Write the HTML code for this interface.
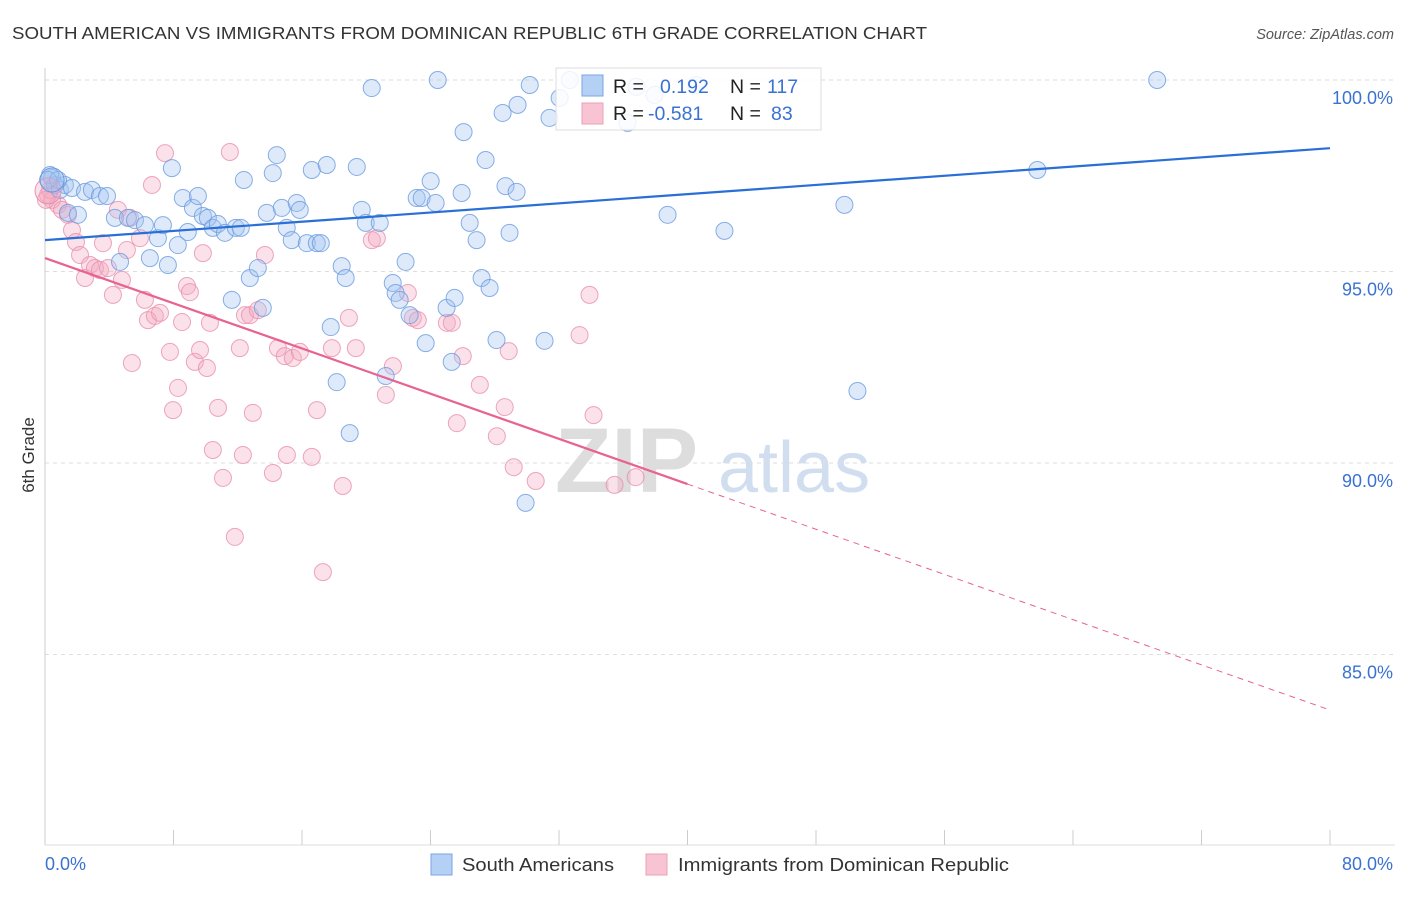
<!DOCTYPE html>
<html><head><meta charset="utf-8"><style>
body{margin:0;background:#fff;font-family:"Liberation Sans",sans-serif;}
svg text{font-family:"Liberation Sans",sans-serif;}
</style></head><body>
<svg id="chart" width="1406" height="892">
<text x="12" y="39" font-size="17.5" fill="#333" textLength="915" lengthAdjust="spacingAndGlyphs">SOUTH AMERICAN VS IMMIGRANTS FROM DOMINICAN REPUBLIC 6TH GRADE CORRELATION CHART</text>
<text x="1394" y="39" font-size="14.5" fill="#555" font-style="italic" text-anchor="end">Source: ZipAtlas.com</text>
<text transform="translate(34,455) rotate(-90)" font-size="17" fill="#333" text-anchor="middle">6th Grade</text>
<text x="555" y="492" font-size="92" fill="#ddd" font-family="Liberation Serif" font-weight="bold">ZIP</text>
<text x="718" y="492" font-size="72" fill="#d0def0">atlas</text>
<g id="grid"></g><g id="axes"></g><g id="pts"></g><g id="lines"></g>
<g>
<rect x="556" y="68" width="265" height="62" fill="#fff" fill-opacity="0.85" stroke="#ddd"/>
<rect x="582" y="75" width="21" height="21" fill="#b4d0f4" stroke="#7aa6e0"/>
<rect x="582" y="103" width="21" height="21" fill="#f8c4d4" stroke="#eaa0b8"/>
<text x="613" y="93" font-size="19.5" fill="#222">R = </text><text x="660" y="93" font-size="19.5" fill="#3a72d0">0.192</text>
<text x="730" y="93" font-size="19.5" fill="#222">N = </text><text x="767" y="93" font-size="19.5" fill="#3a72d0">117</text>
<text x="613" y="120" font-size="19.5" fill="#222">R = </text><text x="648" y="120" font-size="19.5" fill="#3a72d0">-0.581</text>
<text x="730" y="120" font-size="19.5" fill="#222">N = </text><text x="771" y="120" font-size="19.5" fill="#3a72d0">83</text>
</g>
<g>
<rect x="431" y="854" width="21" height="21" fill="#b4d0f4" stroke="#7aa6e0"/>
<text x="462" y="871" font-size="18.5" fill="#333" textLength="152" lengthAdjust="spacingAndGlyphs">South Americans</text>
<rect x="646" y="854" width="21" height="21" fill="#f8c4d4" stroke="#eaa0b8"/>
<text x="678" y="871" font-size="18.5" fill="#333" textLength="331" lengthAdjust="spacingAndGlyphs">Immigrants from Dominican Republic</text>
</g>
<text x="45" y="870" font-size="18" fill="#3a72d0">0.0%</text>
<text x="1393" y="870" font-size="18" fill="#3a72d0" text-anchor="end">80.0%</text>
</svg>
<script>
const yTicks=[100,95,90,85];
const yTickLabels=["100.0%","95.0%","90.0%","85.0%"];
const xTicks=[0,8,16,24,32,40,48,56,64,72,80];
const blueX=[0.44,0.62,0.93,1.24,1.68,2.49,2.92,3.42,3.86,1.43,2.05,4.35,5.16,5.60,6.22,4.67,6.53,7.03,7.34,7.65,7.90,8.27,8.58,8.89,9.21,9.52,9.83,10.14,10.45,10.76,11.20,11.63,11.88,12.19,12.38,12.75,13.25,13.56,13.81,14.18,14.43,14.74,15.05,15.36,15.67,15.86,16.30,16.61,16.92,17.17,17.54,17.79,18.16,18.47,18.72,18.97,19.41,19.72,19.97,20.34,20.84,21.21,21.65,21.83,22.08,22.45,22.70,23.14,23.45,23.70,24.01,24.32,24.45,25.00,25.32,25.50,25.94,26.06,26.44,26.87,27.18,27.43,27.68,28.11,28.49,28.67,28.92,29.36,29.42,29.92,30.18,31.10,31.41,32.04,32.67,36.27,36.83,38.76,42.30,49.77,50.58,61.78,69.24,0.31,0.19,0.81,37.95,40.55];
const blueY=[97.44,97.26,97.13,97.26,97.18,97.08,97.13,96.97,96.97,96.53,96.48,96.40,96.40,96.34,96.21,95.25,95.35,95.87,96.21,95.17,97.70,95.69,96.92,96.03,96.66,96.97,96.45,96.40,96.14,96.24,96.01,94.26,96.14,96.14,97.39,94.83,95.09,94.05,96.53,97.57,98.04,96.66,96.14,95.82,96.79,96.61,95.74,97.65,95.74,95.74,97.78,93.55,92.11,95.14,94.83,90.78,97.73,96.61,96.27,99.79,96.27,92.27,94.70,94.44,94.26,95.25,93.86,96.92,96.92,93.13,97.36,96.79,100,94.05,92.64,94.31,97.05,98.64,96.27,95.82,94.83,97.91,94.57,93.21,99.14,97.23,96.01,97.08,99.35,88.96,99.87,93.19,99.01,99.53,100,98.88,99.82,96.48,96.06,96.74,91.88,97.65,100,97.52,97.39,97.39,99.61,99.87];
const pinkX=[0.19,0.44,0.81,1.06,1.43,1.68,1.93,2.18,2.49,2.80,3.11,3.42,3.61,3.92,4.23,4.54,4.79,5.10,5.29,5.41,5.91,6.22,6.41,6.66,6.84,7.16,7.47,7.78,7.97,8.28,8.53,8.84,9.02,9.33,9.65,9.83,10.08,10.27,10.45,10.77,11.08,11.51,11.82,12.13,12.32,12.45,12.76,12.94,13.25,13.69,14.19,14.50,14.93,15.06,15.43,15.87,16.61,16.93,17.30,17.86,18.54,18.92,19.35,20.35,20.66,21.22,21.66,22.59,22.90,23.21,25.02,25.33,25.64,26.01,27.07,28.13,28.62,28.87,29.18,30.55,33.28,33.90,34.15,35.46,36.77,0.31,0.06];
const pinkY=[97.00,96.87,96.74,96.61,96.48,96.08,95.77,95.43,94.83,95.17,95.09,95.04,95.74,95.09,94.39,96.61,94.78,95.56,96.40,92.61,95.87,94.26,93.73,97.26,93.84,93.92,98.09,92.90,91.38,91.96,93.68,94.62,94.46,92.64,92.95,95.48,92.48,93.66,90.34,91.44,89.61,98.12,88.07,93.00,90.21,93.86,93.86,91.31,93.99,95.43,89.74,93.00,92.79,90.21,92.74,92.90,90.16,91.38,87.15,93.00,89.40,93.79,93.00,95.82,95.87,91.78,92.53,94.44,93.79,93.73,93.66,93.66,91.04,92.79,92.04,90.70,91.46,92.92,89.89,89.53,93.34,94.39,91.25,89.43,89.63,97.13,96.87];
const blueTrend=[95.82,98.22];
const pinkTrend=[95.35,83.55];
const pinkSolidEnd=40;
const NS="http://www.w3.org/2000/svg";
const xs=v=>45+v*16.0625, ys=v=>80+(100-v)*38.3;
function mk(tag,attrs,parent){const e=document.createElementNS(NS,tag);for(const k in attrs)e.setAttribute(k,attrs[k]);parent.appendChild(e);return e;}
const grid=document.getElementById('grid'),axes=document.getElementById('axes');
yTicks.forEach((t,i)=>{
 const l=mk('line',{x1:45,x2:1395,y1:ys(t),y2:ys(t),stroke:'#ddd','stroke-dasharray':'4,4'},grid);
 
 
 const tx=mk('text',{x:1393,y:ys(t)+24,'font-size':18,fill:'#3a72d0','text-anchor':'end'},grid);
 tx.textContent=yTickLabels[i];
 
 
});
const ya=mk('line',{x1:45,x2:45,y1:68,y2:845,stroke:'#ccc'},axes);


const xa=mk('line',{x1:45,x2:1395,y1:845,y2:845,stroke:'#ddd'},axes);


xTicks.forEach(t=>{
 const l=mk('line',{x1:xs(t),x2:xs(t),y1:830,y2:845,stroke:'#ccc'},axes);
 
 
});
const pts=document.getElementById('pts');
function dots(X,Y,fill,stroke,name){
 X.forEach((x,i)=>{
  const c=mk('circle',{cx:xs(x),cy:ys(Y[i]),r:8.5,fill:fill,'fill-opacity':0.35,stroke:stroke,'stroke-opacity':0.8,'stroke-width':1},pts);
  
  
 });
}
dots(pinkX,pinkY,'#f4a8c0','#e890ae','pink-point');
dots(blueX,blueY,'#a0c4f0','#6a9be0','blue-point');
const big1=mk('circle',{cx:xs(pinkX[0]),cy:ys(pinkY[0])-4,r:13,fill:'#f4a8c0','fill-opacity':0.35,stroke:'#e890ae'},pts);


const big2=mk('circle',{cx:xs(blueX[0]),cy:ys(blueY[0])+2,r:12,fill:'#a0c4f0','fill-opacity':0.35,stroke:'#6a9be0'},pts);


const lines=document.getElementById('lines');
const bl=mk('line',{x1:xs(0),y1:ys(blueTrend[0]),x2:xs(80),y2:ys(blueTrend[1]),stroke:'#2a6fd6','stroke-width':2.2},lines);


const pm=pinkTrend[0]+(pinkTrend[1]-pinkTrend[0])*pinkSolidEnd/80;
const pl=mk('line',{x1:xs(0),y1:ys(pinkTrend[0]),x2:xs(pinkSolidEnd),y2:ys(pm),stroke:'#e8638f','stroke-width':2.2},lines);


const pd=mk('line',{x1:xs(pinkSolidEnd),y1:ys(pm),x2:xs(80),y2:ys(pinkTrend[1]),stroke:'#e8638f','stroke-width':1,'stroke-dasharray':'6,5'},lines);


</script>
</body></html>
